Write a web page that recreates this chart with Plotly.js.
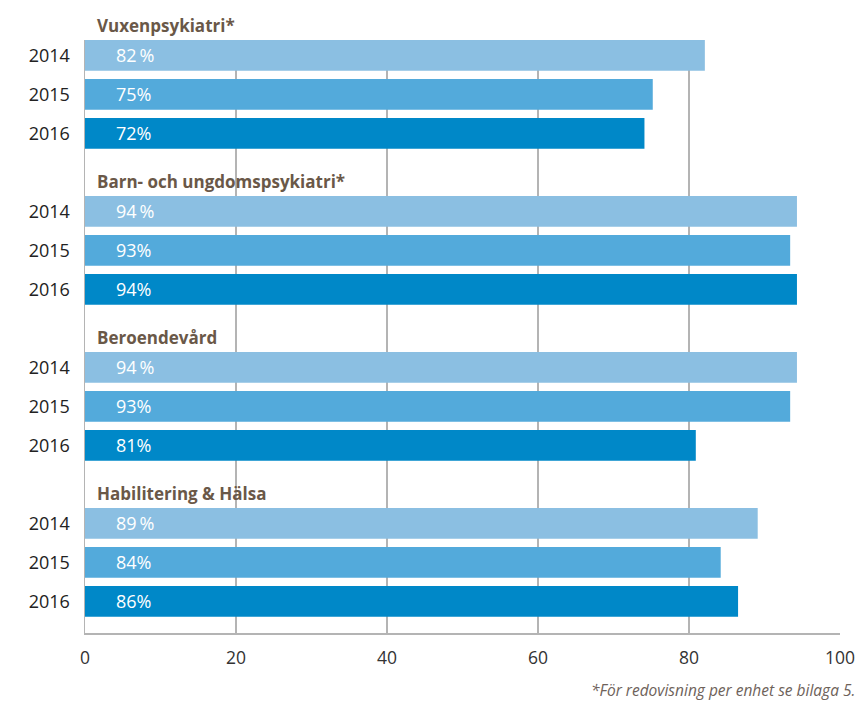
<!DOCTYPE html>
<html>
<head>
<meta charset="utf-8">
<script src="https://cdn.plot.ly/plotly-3.0.1.min.js"></script>
<style>html,body{margin:0;padding:0;background:#fff}#chart{width:859px;height:702px}</style>
</head>
<body>
<div id="chart"></div>
<script>
const groups = ['Vuxenpsykiatri*', 'Barn- och ungdomspsykiatri*', 'Beroendevård', 'Habilitering & Hälsa'];
const years = ['2014', '2015', '2016'];
const v2014 = [82.1, 94.3, 94.3, 89.1];
const v2015 = [75.2, 93.4, 93.4, 84.2];
const v2016 = [74.1, 94.3, 80.9, 86.5];
const lab2014 = ['82\u2009%', '94\u2009%', '94\u2009%', '89\u2009%'];
const lab2015 = ['75%', '93%', '93%', '84%'];
const lab2016 = ['72%', '94%', '81%', '86%'];
const xTicks = [0, 20, 40, 60, 80, 100];
const footnote = '*För redovisning per enhet se bilaga 5.';

const colors = ['#8bbfe2', '#53aadb', '#0088c8'];
const series = [v2014, v2015, v2016];
const labels = [lab2014, lab2015, lab2016];
const FONT = 'Open Sans, Noto Sans, sans-serif';

const yRange = [15.81, 0.608];
const rowPos = (g, k) => g * 4 + k + 1;
const toPaper = p => (yRange[0] - p) / (yRange[0] - yRange[1]);

const traces = series.map((vals, k) => ({
  type: 'bar',
  orientation: 'h',
  name: years[k],
  x: vals,
  y: groups.map((_, g) => rowPos(g, k)),
  width: 0.79,
  marker: {color: colors[k], line: {width: 0}},
  hoverinfo: 'skip',
  showlegend: false
}));

const annotations = [];
groups.forEach((name, g) => {
  annotations.push({
    x: 0, y: toPaper(g * 4 + 0.15), xref: 'paper', yref: 'paper',
    text: '<b>' + name + '</b>', showarrow: false,
    xanchor: 'left', yanchor: 'middle', xshift: 10, yshift: -3,
    font: {family: FONT, size: 17, color: '#6a5848'}
  });
  labels.forEach((arr, k) => {
    annotations.push({
      x: 0, y: rowPos(g, k), xref: 'x', yref: 'y',
      text: arr[g], showarrow: false,
      xanchor: 'left', yanchor: 'middle', xshift: 29,
      font: {family: FONT, size: 18, color: '#ffffff'}
    });
  });
});
annotations.push({
  x: 1, y: 0, xref: 'paper', yref: 'paper',
  text: '<i>' + footnote + '</i>', showarrow: false,
  xanchor: 'right', yanchor: 'middle', xshift: 17, yshift: -57,
  font: {family: FONT, size: 15.5, color: '#6e625a'}
});

const tickvals = [], ticktext = [];
groups.forEach((_, g) => years.forEach((yr, k) => { tickvals.push(rowPos(g, k)); ticktext.push(yr); }));

const layout = {
  width: 859, height: 702,
  margin: {l: 85, r: 19, t: 40, b: 69},
  paper_bgcolor: '#fff', plot_bgcolor: '#fff',
  xaxis: {
    range: [0, 100], tickvals: xTicks, ticktext: xTicks.map(String),
    showgrid: true, gridcolor: '#b4b4b4', gridwidth: 1.5,
    zeroline: false, showline: true, linecolor: '#b4b4b4', linewidth: 1.5,
    ticks: '', ticklabelstandoff: 8,
    tickfont: {family: FONT, size: 17.5, color: '#333333'}, fixedrange: true
  },
  yaxis: {
    range: yRange, tickvals: tickvals, ticktext: ticktext,
    showgrid: false, zeroline: false, showline: true, linecolor: '#b4b4b4', linewidth: 1.5,
    ticks: '', ticklabelstandoff: 10,
    tickfont: {family: FONT, size: 18, color: '#222222'}, fixedrange: true
  },
  bargap: 0.2,
  annotations: annotations
};

Plotly.newPlot('chart', traces, layout, {displayModeBar: false, staticPlot: true});
</script>
</body>
</html>
